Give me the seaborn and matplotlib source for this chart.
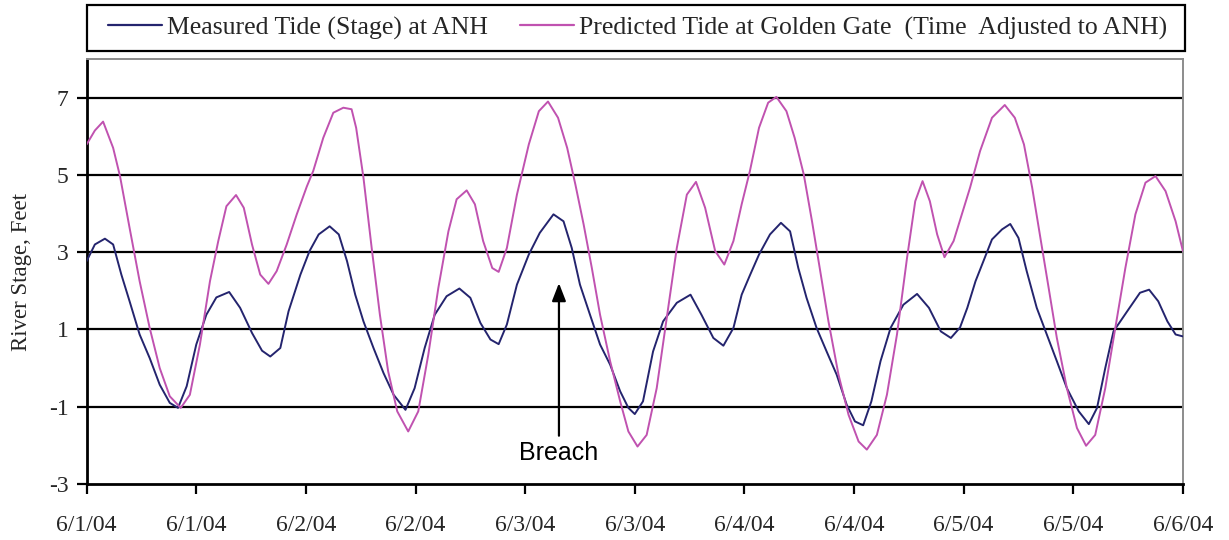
import matplotlib
matplotlib.use("Agg")
import matplotlib.pyplot as plt
from matplotlib.patches import Rectangle
import numpy as np
import pandas as pd
import seaborn as sns

# Hours after midnight, 6/1/04, and stage in feet
measured_hours = [0, 0.9, 2.0, 2.9, 3.8, 4.7, 5.8, 6.9, 8.0, 9.1, 10.0, 10.95, 12.0, 13.1,
                  14.2, 15.6, 16.8, 18.1, 19.2, 20.1, 21.2, 22.1, 23.4, 24.4, 25.4, 26.6,
                  27.6, 28.5, 29.4, 30.3, 31.4, 32.5, 33.6, 34.9, 35.9, 37.0, 38.1, 39.4,
                  40.8, 42.0, 43.1, 44.2, 45.1, 46.0, 47.1, 48.4, 49.6, 51.1, 52.2, 53.1,
                  54.0, 55.1, 56.2, 57.3, 58.4, 59.3, 60.0, 60.9, 62.0, 63.1, 64.6, 66.1,
                  67.3, 68.6, 69.7, 70.8, 71.7, 72.6, 73.6, 74.8, 76.0, 77.0, 77.9, 78.8,
                  79.9, 81.0, 82.1, 83.2, 84.1, 85.0, 85.9, 86.9, 88.0, 89.4, 90.9, 92.2,
                  93.5, 94.6, 95.6, 96.4, 97.3, 98.3, 99.1, 100.2, 101.1, 102.0, 102.9,
                  104.0, 105.1, 106.2, 107.3, 108.6, 109.7, 110.6, 111.5, 112.4, 113.9,
                  115.3, 116.3, 117.3, 118.3, 119.2, 120]
measured_ft = [2.77, 3.20, 3.35, 3.20, 2.42, 1.73, 0.87, 0.26, -0.43, -0.90, -1.03, -0.47,
               0.61, 1.38, 1.83, 1.97, 1.56, 0.91, 0.45, 0.30, 0.52, 1.47, 2.42, 3.03,
               3.46, 3.67, 3.46, 2.77, 1.90, 1.21, 0.52, -0.13, -0.69, -1.08, -0.52, 0.52,
               1.38, 1.86, 2.06, 1.82, 1.17, 0.74, 0.62, 1.13, 2.16, 2.94, 3.50, 3.98,
               3.80, 3.11, 2.16, 1.38, 0.61, 0.09, -0.60, -1.03, -1.19, -0.86, 0.43, 1.21,
               1.69, 1.90, 1.38, 0.78, 0.58, 1.04, 1.90, 2.40, 2.94, 3.46, 3.76, 3.54,
               2.59, 1.82, 1.04, 0.43, -0.17, -0.95, -1.38, -1.48, -0.86, 0.18, 1.04, 1.64,
               1.92, 1.56, 0.95, 0.78, 1.05, 1.56, 2.25, 2.85, 3.33, 3.59, 3.73, 3.37,
               2.51, 1.56, 0.87, 0.18, -0.52, -1.12, -1.45, -1.03, 0.00, 0.95, 1.47, 1.95,
               2.03, 1.73, 1.21, 0.87, 0.82]

predicted_hours = [0, 0.9, 1.8, 2.9, 3.65, 4.7, 5.8, 6.9, 8.0, 9.1, 10.3, 11.3, 12.4, 13.5,
                   14.4, 15.3, 16.35, 17.2, 18.1, 19.0, 19.9, 20.8, 21.9, 23.0, 24.1, 24.8,
                   25.9, 27.0, 28.1, 29.0, 29.5, 30.3, 31.2, 32.1, 33.0, 34.0, 35.2, 36.3,
                   37.4, 38.5, 39.6, 40.5, 41.6, 42.5, 43.4, 44.4, 45.1, 46.0, 47.1, 48.4,
                   49.5, 50.5, 51.6, 52.6, 53.5, 54.4, 55.3, 56.2, 57.3, 58.4, 59.3, 60.3,
                   61.3, 62.4, 63.5, 64.6, 65.7, 66.7, 67.7, 68.8, 69.8, 70.8, 71.7, 72.6,
                   73.6, 74.6, 75.5, 76.6, 77.5, 78.5, 79.4, 80.3, 81.2, 82.3, 83.4, 84.5,
                   85.4, 86.5, 87.6, 88.7, 89.8, 90.7, 91.5, 92.3, 93.1, 93.9, 94.9, 95.8,
                   96.7, 97.8, 99.1, 100.5, 101.6, 102.6, 103.5, 104.4, 105.3, 106.2, 107.3,
                   108.4, 109.4, 110.4, 111.5, 112.6, 113.7, 114.8, 115.9, 117.0, 118.1,
                   119.2, 120]
predicted_ft = [5.79, 6.15, 6.38, 5.70, 4.97, 3.63, 2.25, 1.04, 0.00, -0.73, -1.03, -0.69,
                0.61, 2.25, 3.28, 4.19, 4.48, 4.15, 3.20, 2.42, 2.18, 2.51, 3.20, 3.98,
                4.70, 5.10, 5.96, 6.61, 6.74, 6.70, 6.22, 4.93, 3.11, 1.38, -0.08, -1.12,
                -1.64, -1.12, 0.35, 2.08, 3.54, 4.37, 4.60, 4.24, 3.29, 2.59, 2.49, 3.11,
                4.49, 5.79, 6.65, 6.90, 6.48, 5.70, 4.75, 3.72, 2.59, 1.38, 0.18, -0.86,
                -1.64, -2.03, -1.73, -0.52, 1.30, 3.11, 4.49, 4.82, 4.15, 3.03, 2.68, 3.29,
                4.24, 5.10, 6.22, 6.87, 7.02, 6.65, 5.96, 5.01, 3.80, 2.51, 1.21, -0.17,
                -1.21, -1.90, -2.11, -1.73, -0.69, 0.87, 2.85, 4.32, 4.84, 4.32, 3.46, 2.87,
                3.29, 3.98, 4.67, 5.62, 6.48, 6.81, 6.48, 5.79, 4.67, 3.37, 2.08, 0.78,
                -0.52, -1.55, -2.01, -1.73, -0.52, 1.04, 2.59, 3.98, 4.80, 4.97, 4.58,
                3.80, 3.03]

series_names = ["Measured Tide (Stage) at ANH",
                "Predicted Tide at Golden Gate  (Time  Adjusted to ANH)"]
series_colors = ["#24246e", "#c052b0"]

x_tick_hours = [0, 12, 24, 36, 48, 60, 72, 84, 96, 108, 120]
x_tick_labels = ["6/1/04", "6/1/04", "6/2/04", "6/2/04", "6/3/04", "6/3/04",
                 "6/4/04", "6/4/04", "6/5/04", "6/5/04", "6/6/04"]
y_ticks = [-3, -1, 1, 3, 5, 7]

breach_hour = 51.7
breach_tip_ft = 2.2
breach_tail_ft = -1.75

df = pd.concat([
    pd.DataFrame({"hour": measured_hours, "stage": measured_ft, "series": series_names[0]}),
    pd.DataFrame({"hour": predicted_hours, "stage": predicted_ft, "series": series_names[1]}),
])

sns.set_theme(style="white")
plt.rcParams["font.family"] = ["Liberation Serif", "DejaVu Serif"]

W, H = 1229, 540
fig = plt.figure(figsize=(W / 100, H / 100), dpi=100)
ax = fig.add_axes([0.0705, 0.1037, 0.892, 0.787])

sns.lineplot(data=df, x="hour", y="stage", hue="series", palette=series_colors,
             hue_order=series_names, linewidth=1.4, ax=ax, legend=False,
             sort=False, estimator=None, zorder=3)

ax.set_xlim(0, 120)
ax.set_ylim(-3, 8)
ax.set_yticks(y_ticks)
ax.set_yticklabels([str(v) for v in y_ticks])
ax.set_xticks(x_tick_hours)
ax.set_xticklabels(x_tick_labels)
ax.set_xlabel("")
ax.set_ylabel("River Stage, Feet", fontsize=16.5, labelpad=12)

for v in y_ticks[1:]:
    ax.axhline(v, color="black", lw=1.6, zorder=1)

ax.spines["left"].set_color("black")
ax.spines["left"].set_linewidth(2.0)
ax.spines["bottom"].set_color("black")
ax.spines["bottom"].set_linewidth(2.0)
ax.spines["top"].set_color("#8c8c8c")
ax.spines["top"].set_linewidth(1.4)
ax.spines["right"].set_color("#8c8c8c")
ax.spines["right"].set_linewidth(1.4)

ax.tick_params(axis="y", which="major", direction="out", length=7, width=1.6,
               color="black", labelsize=17, pad=6, left=True)
ax.tick_params(axis="x", which="major", direction="out", length=7, width=1.6,
               color="black", labelsize=17, pad=15, bottom=True)

ax.annotate("", xy=(breach_hour, breach_tip_ft), xytext=(breach_hour, breach_tail_ft),
            arrowprops=dict(arrowstyle="-|>,head_length=0.9,head_width=0.35",
                            color="black", lw=1.6, shrinkA=0, shrinkB=0), zorder=4)
ax.text(breach_hour, breach_tail_ft - 0.14, "Breach", ha="center", va="top",
        fontsize=18, family=["Liberation Sans", "DejaVu Sans"], color="black")

# Legend box spanning the width of the plot area
fig.patches.append(Rectangle((87 / W, 1 - 51 / H), (1185 - 87) / W, 46 / H,
                             transform=fig.transFigure, facecolor="white",
                             edgecolor="black", lw=1.6, zorder=5))
handles = [plt.Line2D([], [], color=c, lw=1.6) for c in series_colors]
leg = fig.legend(handles, series_names, loc="center left", ncol=2,
                 bbox_to_anchor=(108 / W, 1 - 28 / H),
                 frameon=False, fontsize=18.5,
                 handlelength=2.1, handletextpad=0.2, columnspacing=1.23,
                 borderaxespad=0, borderpad=0)
leg.set_zorder(6)

fig.savefig("out.png", dpi=100)
